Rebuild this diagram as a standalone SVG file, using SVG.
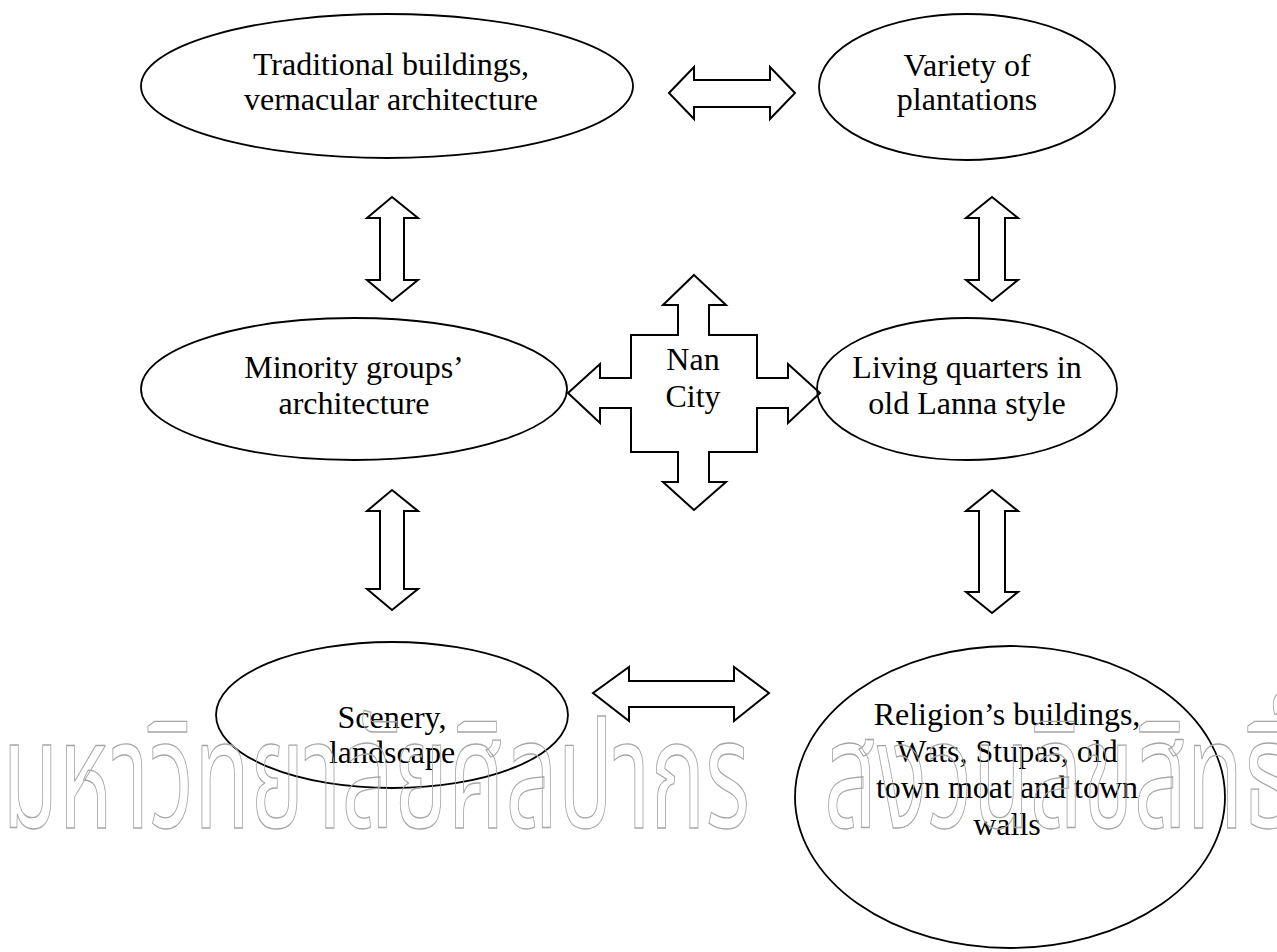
<svg xmlns="http://www.w3.org/2000/svg" width="1277" height="952" viewBox="0 0 1277 952">
  <style>
    .node { fill: none; stroke: #000; stroke-width: 1.8; }
    .arrow { fill: #fff; stroke: #000; stroke-width: 2; stroke-linejoin: miter; }
    .label { font-family: "Liberation Serif", "Times New Roman", serif; font-size: 32px; fill: #000; text-anchor: middle; }
    .mark { font-family: "Noto Sans Thai", "Noto Serif Thai", "Loma", "Garuda", "Norasi", "DejaVu Sans", sans-serif; font-size: 150px; fill: none; stroke: #a6a6a6; stroke-width: 1.3; }
  </style>
  <rect width="1277" height="952" fill="#fff"/>

  <g id="connectors">
    <!-- horizontal double arrows -->
    <polygon class="arrow" points="669,93 694,67 694,80 770,80 770,67 795,93 770,119 770,107 694,107 694,119"/>
    <polygon class="arrow" points="593,693 629,667 629,681 734,681 734,667 769,693 734,721 734,707 629,707 629,721"/>
    <!-- vertical double arrows -->
    <polygon class="arrow" points="392,197 418,218 404,218 404,280 418,280 392,301 367,280 380,280 380,218 367,218"/>
    <polygon class="arrow" points="992,197 1018,218 1005,218 1005,280 1018,280 992,301 966,280 979,280 979,218 966,218"/>
    <polygon class="arrow" points="392,490 418,511 404,511 404,589 418,589 392,610 367,589 380,589 380,511 367,511"/>
    <polygon class="arrow" points="992,490 1018,511 1005,511 1005,592 1018,592 992,613 966,592 979,592 979,511 966,511"/>
  </g>

  <g id="node-traditional">
    <ellipse class="node" cx="387" cy="86" rx="246" ry="72"/>
    <text class="label" x="391" y="75">Traditional buildings,</text>
    <text class="label" x="391" y="110">vernacular architecture</text>
  </g>

  <g id="node-plantations">
    <ellipse class="node" cx="967" cy="87" rx="148" ry="73"/>
    <text class="label" x="967" y="76">Variety of</text>
    <text class="label" x="967" y="110">plantations</text>
  </g>

  <g id="node-minority">
    <ellipse class="node" cx="354" cy="389" rx="213" ry="71"/>
    <text class="label" x="354" y="378">Minority groups’</text>
    <text class="label" x="354" y="414">architecture</text>
  </g>

  <g id="node-nan-city">
    <polygon class="arrow" points="694,275 726,305 709,305 709,335 757,335 757,378 788,378 788,364 820,393 788,423 788,408 757,408 757,452 709,452 709,482 726,482 694,510 663,482 678,482 678,452 631,452 631,408 600,408 600,423 568,393 600,364 600,378 631,378 631,335 678,335 678,305 663,305"/>
    <text class="label" x="693" y="370">Nan</text>
    <text class="label" x="693" y="407">City</text>
  </g>

  <g id="node-living">
    <ellipse class="node" cx="967" cy="389" rx="150" ry="71"/>
    <text class="label" x="967" y="378">Living quarters in</text>
    <text class="label" x="967" y="414">old Lanna style</text>
  </g>

  <g id="node-scenery">
    <ellipse class="node" cx="392" cy="715" rx="176" ry="73"/>
    <text class="label" x="392" y="728">Scenery,</text>
    <text class="label" x="392" y="763">landscape</text>
  </g>

  <g id="node-religion">
    <ellipse class="node" cx="1010" cy="797" rx="215" ry="151"/>
    <text class="label" x="1007" y="725">Religion’s buildings,</text>
    <text class="label" x="1007" y="762">Wats, Stupas, old</text>
    <text class="label" x="1007" y="798">town moat and town</text>
    <text class="label" x="1007" y="835">walls</text>
  </g>

  <!-- outlined watermark across the lower band -->
  <g id="watermark">
    <text class="mark" x="2" y="828" textLength="748" lengthAdjust="spacingAndGlyphs">มหาวิทยาลัยศิลปากร</text>
    <text class="mark" x="824" y="828" textLength="470" lengthAdjust="spacingAndGlyphs">สงวนลิขสิทธิ์</text>
  </g>
</svg>
